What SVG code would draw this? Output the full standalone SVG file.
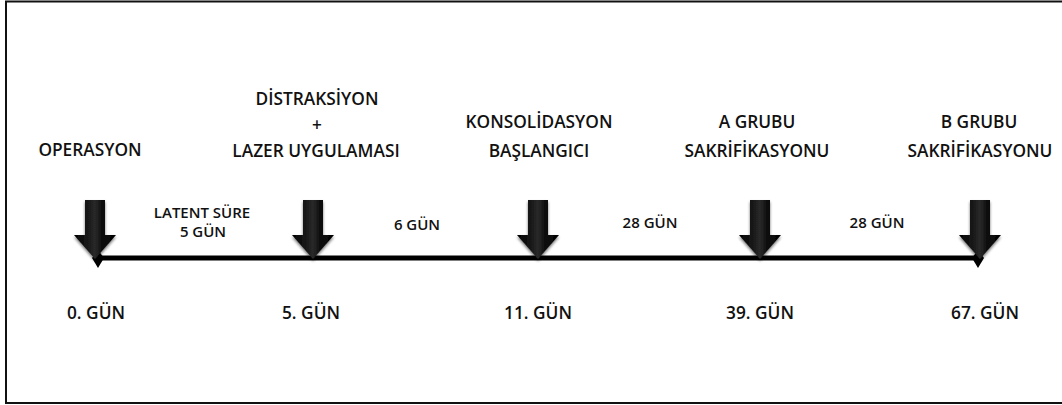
<svg xmlns="http://www.w3.org/2000/svg" width="1062" height="405" viewBox="0 0 1062 405">
<style>
.t{font-family:"Open Sans","Liberation Sans",sans-serif;font-weight:600;font-size:17.3px;fill:#111;text-anchor:middle}
.s{font-size:15px}
</style>
<defs>
<linearGradient id="ag" x1="0" y1="0" x2="1" y2="0">
<stop offset="0" stop-color="#000"/>
<stop offset="0.35" stop-color="#1a1a1a"/>
<stop offset="0.5" stop-color="#2a2a2a"/>
<stop offset="0.65" stop-color="#111"/>
<stop offset="1" stop-color="#000"/>
</linearGradient>
<filter id="sh" x="-50%" y="-30%" width="200%" height="160%">
<feGaussianBlur in="SourceAlpha" stdDeviation="1.6"/>
<feOffset dx="0" dy="1.5" result="b"/>
<feComponentTransfer><feFuncA type="linear" slope="0.55"/></feComponentTransfer>
<feMerge><feMergeNode/><feMergeNode in="SourceGraphic"/></feMerge>
</filter>
<path id="arr" d="M-10,200 L10,200 L10,235 L21,235 L0,259 L-21,235 L-10,235 Z" fill="url(#ag)" filter="url(#sh)"/>
</defs>
<rect x="0" y="0" width="1062" height="405" fill="#fff"/>
<path d="M1063,1.5 L6,1.5 L6,403 L1063,403" fill="none" stroke="#111" stroke-width="2"/>

<g id="connectors">
<line x1="98" y1="258" x2="978" y2="258" stroke="#000" stroke-width="5"/>
<path d="M98,250 L104,258 L98,268 L92,258 Z" fill="#000"/>
<path d="M978,250 L984,258 L978,268 L972,258 Z" fill="#000"/>
</g>

<g id="n0">
<use href="#arr" transform="translate(95,0)"/>
<text class="t" x="90" y="156">OPERASYON</text>
<text class="t" x="96" y="319">0. GÜN</text>
</g>
<g id="n1">
<use href="#arr" transform="translate(313,0)"/>
<text class="t" x="317" y="105">DİSTRAKSİYON</text>
<text class="t" x="317" y="131">+</text>
<text class="t" x="316" y="157">LAZER UYGULAMASI</text>
<text class="t" x="311" y="319">5. GÜN</text>
</g>
<g id="n2">
<use href="#arr" transform="translate(538,0)"/>
<text class="t" x="539" y="128">KONSOLİDASYON</text>
<text class="t" x="539" y="157">BAŞLANGICI</text>
<text class="t" x="538" y="319">11. GÜN</text>
</g>
<g id="n3">
<use href="#arr" transform="translate(760,0)"/>
<text class="t" x="757" y="128">A GRUBU</text>
<text class="t" x="757" y="157">SAKRİFİKASYONU</text>
<text class="t" x="760" y="319">39. GÜN</text>
</g>
<g id="n4">
<use href="#arr" transform="translate(980,0)"/>
<text class="t" x="979" y="128">B GRUBU</text>
<text class="t" x="980" y="157">SAKRİFİKASYONU</text>
<text class="t" x="985" y="319">67. GÜN</text>
</g>
<g id="labels">
<text class="t s" x="202" y="218">LATENT SÜRE</text>
<text class="t s" x="203" y="237">5 GÜN</text>
<text class="t s" x="417" y="230">6 GÜN</text>
<text class="t s" x="650" y="228">28 GÜN</text>
<text class="t s" x="877" y="228">28 GÜN</text>
</g>
</svg>
